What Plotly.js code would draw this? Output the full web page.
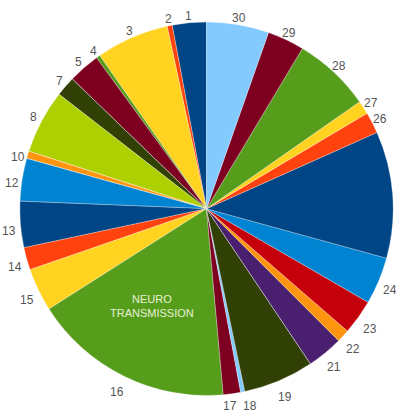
<!DOCTYPE html>
<html><head><meta charset="utf-8">
<script src="https://cdn.plot.ly/plotly-3.0.1.min.js"></script>
<style>html,body{margin:0;padding:0;background:#fff}#chart{width:396px;height:415px}</style>
</head><body><div id="chart"></div>
<script>
const categories = ["1","2","3","4","5","6","7","8","9","10","11","12","13","14","15","16","17","18","19","20","21","22","23","24","25","26","27","28","29","30"];
const values = [10.6,1.6,22.7,1.2,9.9,0,6.2,19.9,0,2.3,0,13.3,14.4,7.0,13.4,62.7,5.4,1.3,22.0,0,11.2,4.0,10.9,14.7,39.5,6.6,4.2,24.2,11.5,19.4];
const tickLabels = ["1","2","3","4","5","","7","8","","10","","12","13","14","15","16","17","18","19","","21","22","23","24","","26","27","28","29","30"];
const palette = ["#004586","#ff420e","#ffd320","#579d1c","#7e0021","#83caff","#314004","#aecf00","#4b1f6f","#ff950e","#c5000b","#0084d1"];
const colors = categories.map((c,i)=>palette[i%palette.length]);

const W=396,H=415, cx=206.5, cy=208.7, R=186.7;
const total = values.reduce((a,b)=>a+b,0);
const pts = [];
let cum = 0;
values.forEach((v,i)=>{
  const mid = (cum + v/2)/total*360; cum += v;
  if(!tickLabels[i]) return;
  const th = (360-mid)*Math.PI/180;
  const s=Math.sin(th), c=Math.cos(th);
  const r = R + 11 - 4.5*c;
  const shift = c < 0.4 ? 5*Math.abs(s) : 0;
  pts.push({px: cx + r*s, py: Math.min(cy - r*c + shift, H-9), t: tickLabels[i]});
});
// simple overlap avoidance for neighbouring labels on the same line
for(let k=0;k<pts.length-1;k++){
  const a=pts[k], b=pts[k+1];
  if(Math.abs(a.py-b.py)<8){
    const d=Math.abs(a.px-b.px);
    if(d<20){ const m=(20-d)/2; if(a.px<b.px){a.px-=m;b.px+=m;}else{a.px+=m;b.px-=m;} }
  }
}
const annotations = pts.map(p=>({x:p.px/W, y:1-p.py/H, xref:'paper', yref:'paper', text:p.t, showarrow:false,
    xanchor:'center', yanchor:'middle', font:{family:'Liberation Sans, Arial, sans-serif', size:12, color:'#555555'}}));
annotations.push({x:152/W, y:1-306/H, xref:'paper', yref:'paper', text:'NEURO<br>TRANSMISSION', showarrow:false,
  xanchor:'center', yanchor:'middle', font:{family:'Liberation Sans, Arial, sans-serif', size:11, color:'#e6f0d6'}});

// Plotly's counterclockwise mode lays the first slice clockwise of the rotation angle; shift it back
const rot = -values[0]/total*360;
const trace = {type:'pie', labels:categories, values:values, sort:false, direction:'counterclockwise', rotation:rot,
  marker:{colors:colors, line:{color:'rgba(255,255,255,0.55)', width:0.5}},
  textinfo:'none', hoverinfo:'label+value', showlegend:false,
  domain:{x:[(cx-R)/W,(cx+R)/W], y:[1-(cy+R)/H, 1-(cy-R)/H]}};

Plotly.newPlot('chart',[trace],{width:W,height:H,margin:{l:0,r:0,t:0,b:0},paper_bgcolor:'#fff',showlegend:false,annotations:annotations},{staticPlot:true});
</script></body></html>
